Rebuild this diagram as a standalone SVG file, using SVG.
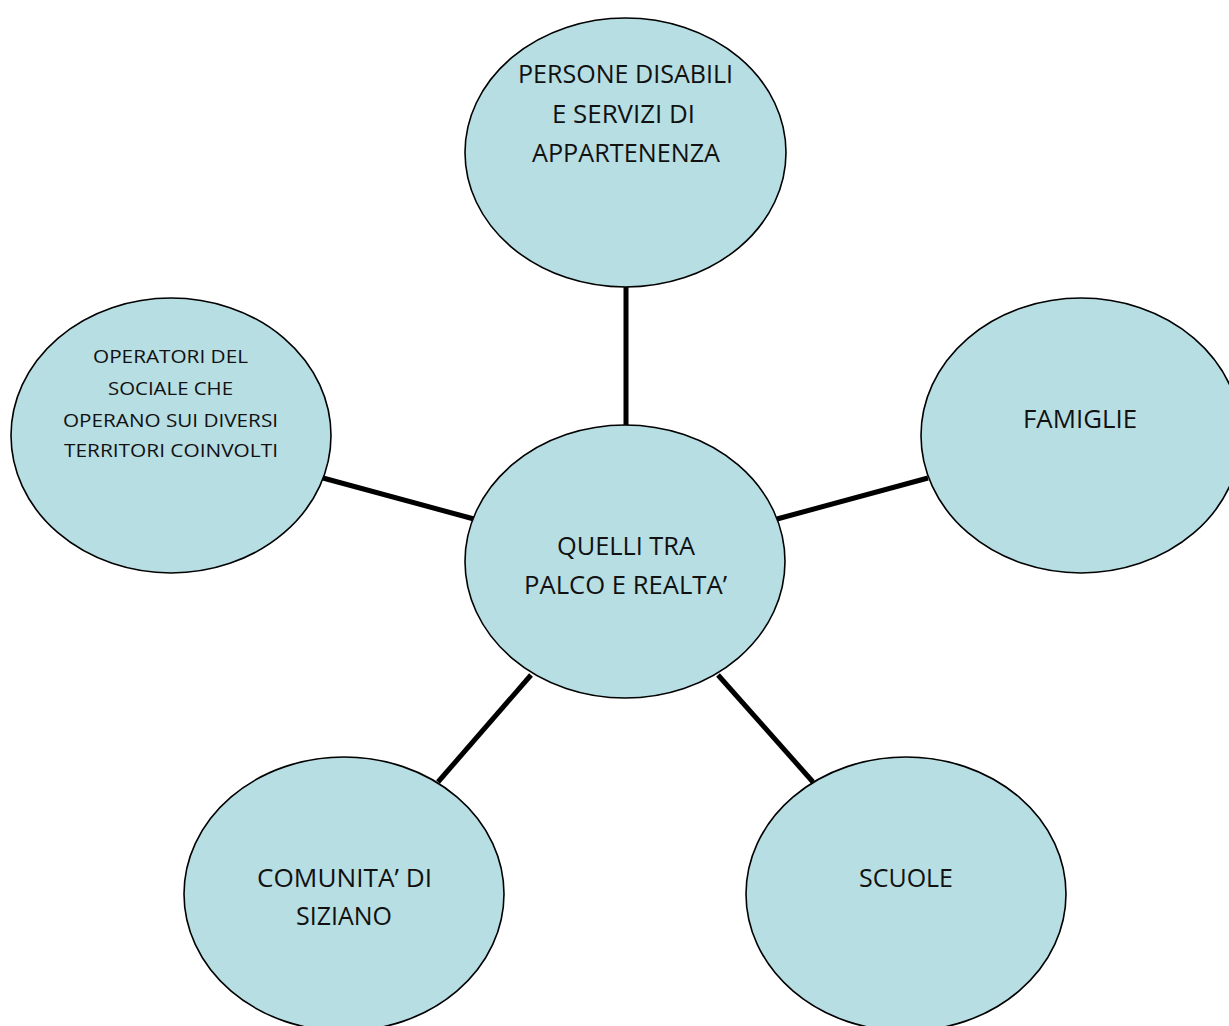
<svg xmlns="http://www.w3.org/2000/svg" width="1229" height="1026" viewBox="0 0 1229 1026">
  <style>
    .bubble { fill: #B7DEE3; stroke: #000; stroke-width: 1.6; }
    .link { stroke: #000; stroke-width: 5; fill: none; }
    .label { font-family: "Open Sans", "Noto Sans", "Liberation Sans", sans-serif; font-size: 25.5px; fill: #111; text-anchor: middle; }
    .small { font-size: 19px; }
  </style>
  <rect width="1229" height="1026" fill="#fff"/>

  <!-- spokes from the hub to each outer bubble -->
  <g id="connectors">
    <line class="link" x1="626" y1="286" x2="626" y2="426"/>
    <line class="link" x1="323" y1="478" x2="474" y2="519"/>
    <line class="link" x1="777" y1="519" x2="928" y2="478"/>
    <line class="link" x1="438" y1="782" x2="531" y2="675"/>
    <line class="link" x1="718" y1="675" x2="813" y2="782"/>
  </g>

  <g id="node-persone">
    <ellipse class="bubble" cx="625.5" cy="152.5" rx="160.5" ry="134.5"/>
    <text class="label" x="625.5" y="83" textLength="215" lengthAdjust="spacingAndGlyphs">PERSONE DISABILI</text>
    <text class="label" x="623.5" y="123" textLength="143" lengthAdjust="spacingAndGlyphs">E SERVIZI DI</text>
    <text class="label" x="626" y="162" textLength="188" lengthAdjust="spacingAndGlyphs">APPARTENENZA</text>
  </g>

  <g id="node-operatori">
    <ellipse class="bubble" cx="171" cy="435.5" rx="160" ry="137.5"/>
    <text class="label small" x="170.5" y="363" textLength="155" lengthAdjust="spacingAndGlyphs">OPERATORI DEL</text>
    <text class="label small" x="170.5" y="395" textLength="125" lengthAdjust="spacingAndGlyphs">SOCIALE CHE</text>
    <text class="label small" x="170.5" y="427" textLength="215" lengthAdjust="spacingAndGlyphs">OPERANO SUI DIVERSI</text>
    <text class="label small" x="171" y="457" textLength="214" lengthAdjust="spacingAndGlyphs">TERRITORI COINVOLTI</text>
  </g>

  <g id="node-famiglie">
    <ellipse class="bubble" cx="1081" cy="435.5" rx="160" ry="137.5"/>
    <text class="label" x="1080" y="428" textLength="114" lengthAdjust="spacingAndGlyphs">FAMIGLIE</text>
  </g>

  <g id="node-centro">
    <ellipse class="bubble" cx="625" cy="561.5" rx="160" ry="136.5"/>
    <text class="label" x="626" y="555" textLength="138" lengthAdjust="spacingAndGlyphs">QUELLI TRA</text>
    <text class="label" x="625.5" y="594" textLength="203" lengthAdjust="spacingAndGlyphs">PALCO E REALTA’</text>
  </g>

  <g id="node-comunita">
    <ellipse class="bubble" cx="344" cy="894" rx="160" ry="137"/>
    <text class="label" x="344.5" y="887" textLength="175" lengthAdjust="spacingAndGlyphs">COMUNITA’ DI</text>
    <text class="label" x="344" y="925" textLength="96" lengthAdjust="spacingAndGlyphs">SIZIANO</text>
  </g>

  <g id="node-scuole">
    <ellipse class="bubble" cx="906" cy="894" rx="160" ry="137"/>
    <text class="label" x="906" y="887" textLength="94" lengthAdjust="spacingAndGlyphs">SCUOLE</text>
  </g>
</svg>
